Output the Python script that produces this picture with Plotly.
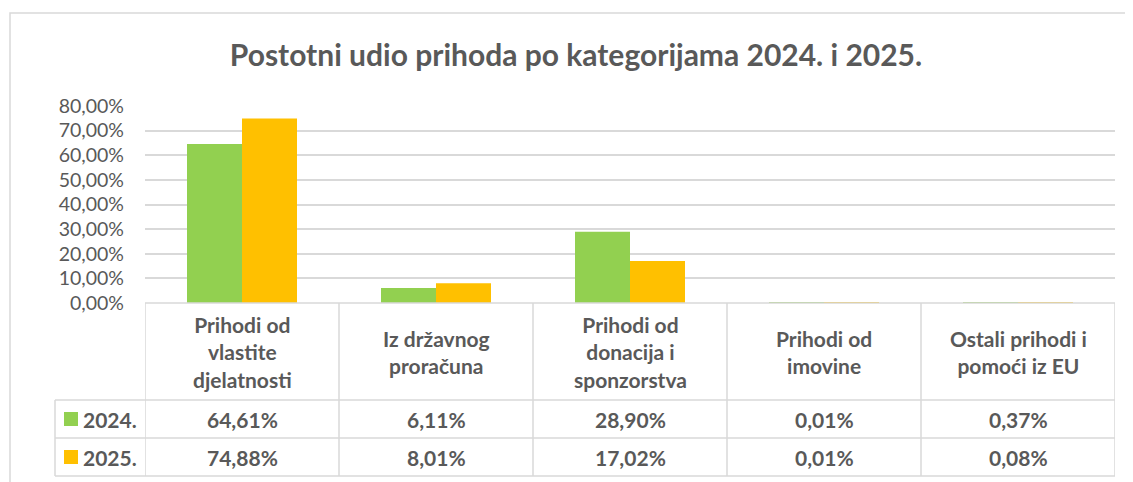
import plotly.graph_objects as go

# ---------------- data ----------------
categories = [
    "Prihodi od<br>vlastite<br>djelatnosti",
    "Iz državnog<br>proračuna",
    "Prihodi od<br>donacija i<br>sponzorstva",
    "Prihodi od<br>imovine",
    "Ostali prihodi i<br>pomoći iz EU",
]
series_names = ["2024.", "2025."]
values_2024 = [64.61, 6.11, 28.90, 0.01, 0.37]
values_2025 = [74.88, 8.01, 17.02, 0.01, 0.08]
tick_values = [0, 10, 20, 30, 40, 50, 60, 70, 80]
tick_labels = ["0,00%", "10,00%", "20,00%", "30,00%", "40,00%",
               "50,00%", "60,00%", "70,00%", "80,00%"]
title_text = "Postotni udio prihoda po kategorijama 2024. i 2025."

# ---------------- style ----------------
W, H = 1133, 482
OFF = 8                      # page body margin offset
PL, PR = 145 - OFF, 1115 - OFF   # plot area x in figure px
PT, PB = 106 - OFF, 303 - OFF    # plot area y in figure px
GREEN, ORANGE = "#92D050", "#FFC000"
TXT = "#595959"
LINE = "#D9D9D9"
FONT = "Lato"
TS = 21

def px_y(p):   # page pixel y -> paper y
    return (PB - (p - OFF)) / (PB - PT)

def px_x(p):   # page pixel x -> paper x
    return ((p - OFF) - PL) / (PR - PL)

fig = go.Figure()
fig.add_trace(go.Bar(x=categories, y=values_2024, name=series_names[0],
                     marker=dict(color=GREEN, line=dict(width=0))))
fig.add_trace(go.Bar(x=categories, y=values_2025, name=series_names[1],
                     marker=dict(color=ORANGE, line=dict(width=0))))

shapes = []
annotations = []

# outer chart border
shapes.append(dict(type="rect", xref="paper", yref="paper",
                   x0=px_x(10), x1=px_x(1150), y0=px_y(500), y1=px_y(13),
                   line=dict(color=LINE, width=1.5), fillcolor="rgba(0,0,0,0)",
                   layer="below"))

# table geometry (page px)
header_bottom = 400
row_bottoms = [438, 476]
legend_left = 55
n = len(categories)

shapes.append(dict(type="line", xref="x", yref="paper", x0=-0.5, x1=n - 0.5,
                   y0=0, y1=0, line=dict(color=LINE, width=1.5)))
for yb in [header_bottom] + row_bottoms:
    shapes.append(dict(type="line", xref="paper", yref="paper",
                       x0=px_x(legend_left), x1=1, y0=px_y(yb), y1=px_y(yb),
                       line=dict(color=LINE, width=1.5)))
for i in range(n + 1):
    shapes.append(dict(type="line", xref="x", yref="paper", x0=i - 0.5, x1=i - 0.5,
                       y0=0, y1=px_y(row_bottoms[-1]),
                       line=dict(color=LINE, width=1.5)))
shapes.append(dict(type="line", xref="paper", yref="paper",
                   x0=px_x(legend_left), x1=px_x(legend_left),
                   y0=px_y(header_bottom), y1=px_y(row_bottoms[-1]),
                   line=dict(color=LINE, width=1.5)))

# header texts
for i, c in enumerate(categories):
    annotations.append(dict(x=i, xref="x", y=px_y((303 + header_bottom) / 2), yref="paper",
                            text=c, showarrow=False, xanchor="center", yanchor="middle",
                            align="center",
                            font=dict(family=FONT, size=TS, color=TXT, weight="bold")))

# data rows
row_tops = [header_bottom] + row_bottoms[:-1]
for r, (vals, name, col) in enumerate(zip([values_2024, values_2025], series_names, [GREEN, ORANGE])):
    yc = (row_tops[r] + row_bottoms[r]) / 2
    for i, v in enumerate(vals):
        annotations.append(dict(x=i, xref="x", y=px_y(yc), yref="paper",
                                text=f"{v:.2f}%".replace(".", ","), showarrow=False,
                                xanchor="center", yanchor="middle",
                                font=dict(family=FONT, size=TS, color=TXT, weight="bold")))
    shapes.append(dict(type="rect", xref="paper", yref="paper",
                       x0=px_x(64), x1=px_x(78), y0=px_y(yc + 7), y1=px_y(yc - 7),
                       fillcolor=col, line=dict(width=0)))
    annotations.append(dict(x=px_x(81), xref="paper", y=px_y(yc), yref="paper",
                            text=name, showarrow=False, xanchor="left", yanchor="middle",
                            font=dict(family=FONT, size=TS, color=TXT, weight="bold")))

fig.update_layout(
    width=W, height=H,
    margin=dict(l=PL, r=W - PR, t=PT, b=H - PB, pad=0),
    paper_bgcolor="white", plot_bgcolor="white",
    barmode="group", bargap=0.433, bargroupgap=0,
    showlegend=False,
    title=dict(text=title_text, x=(576 - OFF) / W, xref="container", xanchor="center",
               y=1 - (55 - OFF) / H, yref="container", yanchor="middle",
               font=dict(family=FONT, size=30, color=TXT, weight="bold")),
    xaxis=dict(showticklabels=False, showgrid=False, zeroline=False, showline=False,
               ticks="", range=[-0.5, n - 0.5]),
    yaxis=dict(range=[0, 80], tickvals=tick_values, ticktext=tick_labels,
               showgrid=True, gridcolor=LINE, gridwidth=1.5, zeroline=False,
               showline=False, ticks="", ticklabelstandoff=20,
               tickfont=dict(family=FONT, size=19.5, color=TXT)),
    shapes=shapes, annotations=annotations,
)

fig.write_html("out.html")
